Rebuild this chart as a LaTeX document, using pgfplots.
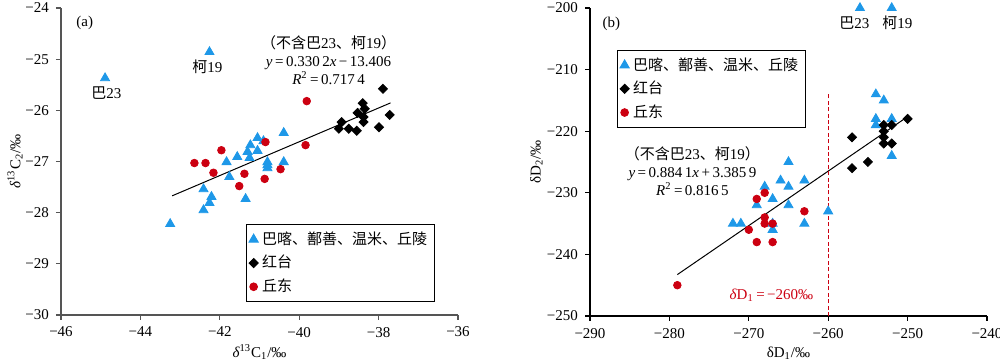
\documentclass[border=0pt]{standalone}
\usepackage{fontspec}
\setmainfont{Liberation Serif}
\newfontfamily\cjk{Noto Sans CJK SC}
\usepackage{pgfplots}
\pgfplotsset{compat=1.18}
\definecolor{myblue}{RGB}{30,152,232}
\definecolor{myred}{RGB}{204,0,17}
\definecolor{axgray}{RGB}{85,85,85}
\newcommand{\fs}{\fontsize{7.5}{9}\selectfont}
\pgfplotsset{
 myaxis/.style={
  scale only axis, width=198.5pt,
  axis lines=left, axis line style={-, axgray, line width=0.6pt},
  tick align=outside, major tick length=2.5pt, tick style={axgray, line width=0.6pt},
  every tick label/.append style={font=\fs, text=black},
  label style={font=\fs},
  xlabel style={at={(axis description cs:0.5,-0.12)}, anchor=center},
  legend style={font=\fs, draw=black, line width=0.5pt, inner sep=1.5pt, row sep=0pt},
  legend cell align=left,
  clip=false,
 },
 bl/.style={only marks, mark=triangle*, mark size=2.6pt, color=myblue},
 bk/.style={only marks, mark=square*, mark size=1.6pt, mark options={rotate=45}, color=black},
 rd/.style={only marks, mark=*, mark size=1.9pt, color=myred},
}
\begin{document}
\begin{tikzpicture}
% ---------------- (a) ----------------
\begin{axis}[myaxis, height=153.5pt, at={(30.5pt,24pt)}, anchor=south west,
  xmin=-46, xmax=-36, ymin=-30, ymax=-24,
  xtick={-46,-44,-42,-40,-38,-36}, xticklabels={−46,−44,−42,−40,−38,−36},
  ytick={-30,-29,-28,-27,-26,-25,-24}, yticklabels={−30,−29,−28,−27,−26,−25,−24},
  xlabel={{\itshape δ}\textsuperscript{13}C\textsubscript{1}/‰},
  ylabel={{\itshape δ}\textsuperscript{13}C\textsubscript{2}/‰},
  ylabel style={at={(axis description cs:-0.116,0.5)}, anchor=center},
  legend style={at={(0.465,0.296)}, anchor=north west}]
\addplot[bl] coordinates {
(-44.89,-25.37) (-42.26,-24.86)
(-43.25,-28.22) (-42.41,-27.95) (-42.26,-27.81) (-42.21,-27.69) (-42.41,-27.54)
(-41.83,-27.01) (-41.76,-27.30) (-41.56,-26.91) (-41.35,-27.73) (-41.23,-26.68)
(-41.30,-26.81) (-41.25,-26.93) (-41.05,-26.54) (-41.05,-26.79) (-40.90,-26.60)
(-40.80,-27.01) (-40.80,-27.07) (-40.80,-27.13) (-40.39,-26.44) (-40.39,-27.01)
};
\addlegendentry{\cjk 巴喀、鄯善、温米、丘陵}
\addplot[bk] coordinates {
(-37.89,-25.58) (-38.40,-25.86) (-38.53,-26.05) (-38.35,-25.97) (-38.38,-26.13)
(-38.38,-26.23) (-38.93,-26.23) (-39.00,-26.36) (-38.75,-26.36) (-38.55,-26.40)
(-37.99,-26.33) (-37.72,-26.09)
};
\addlegendentry{\cjk 红台}
\addplot[rd] coordinates {
(-42.64,-27.03) (-42.36,-27.03) (-42.16,-27.22) (-41.96,-26.78) (-41.51,-27.48)
(-41.38,-27.24) (-40.85,-26.62) (-40.87,-27.34) (-40.47,-27.15) (-39.81,-25.82)
(-39.84,-26.68)
};
\addlegendentry{\cjk 丘东}
\addplot[black, line width=0.5pt, forget plot] coordinates {(-43.2,-27.671) (-37.7,-25.855)};
\node[font=\fs] at (axis cs:-45.4,-24.3) {(a)};
\node[font=\fs] at (axis cs:-44.86,-25.66) {{\cjk 巴}23};
\node[font=\fs] at (axis cs:-42.31,-25.15) {{\cjk 柯}19};
\node[font=\fs, align=center] at (axis cs:-39.26,-25.02) {{\cjk （不含巴}23{\cjk 、柯}19{\cjk ）}\\ \textit{y}\,=\,0.330\,2\textit{x}\,−\,13.406\\ \textit{R}\textsuperscript{2}\,=\,0.717\,4};
\end{axis}
% ---------------- (b) ----------------
\begin{axis}[myaxis, height=154pt, at={(295pt,23.5pt)}, anchor=south west,
  axis line style={-, black, line width=0.6pt}, tick style={black, line width=0.6pt},
  xmin=-290, xmax=-240, ymin=-250, ymax=-200,
  xtick={-290,-280,-270,-260,-250,-240}, xticklabels={−290,−280,−270,−260,−250,−240},
  ytick={-250,-240,-230,-220,-210,-200}, yticklabels={−250,−240,−230,−220,−210,−200},
  xlabel={δD\textsubscript{1}/‰},
  ylabel={δD\textsubscript{2}/‰},
  ylabel style={at={(axis description cs:-0.135,0.5)}, anchor=center},
  legend style={at={(0.067,0.864)}, anchor=north west}]
\addplot[bl] coordinates {
(-256,-200) (-252,-200)
(-272,-235) (-271,-235) (-269,-232) (-268,-229) (-267,-231) (-267,-236) (-267,-235)
(-266,-228) (-265,-225) (-265,-229) (-265,-232) (-263,-228) (-263,-235) (-260,-233)
(-254,-214) (-253,-215) (-254,-218) (-254,-219) (-252,-218) (-252,-224)
};
\addlegendentry{\cjk 巴喀、鄯善、温米、丘陵}
\addplot[bk] coordinates {
(-257,-221) (-257,-226) (-255,-225) (-253,-219) (-253,-220) (-253,-221) (-253,-222)
(-252,-219) (-252,-222) (-250,-218)
};
\addlegendentry{\cjk 红台}
\addplot[rd] coordinates {
(-268,-230) (-269,-231) (-268,-234) (-268,-235) (-267,-235) (-270,-236) (-269,-238)
(-267,-238) (-263,-233) (-279,-245)
};
\addlegendentry{\cjk 丘东}
\addplot[black, line width=0.5pt, forget plot] coordinates {(-279,-243.28) (-250,-217.64)};
\addplot[myred, line width=0.6pt, dash pattern=on 2pt off 1.2pt, forget plot] coordinates {(-260,-250) (-260,-214)};
\node[font=\fs] at (axis cs:-287.3,-202.6) {(b)};
\node[font=\fs] at (axis cs:-256.7,-202.4) {{\cjk 巴}23};
\node[font=\fs] at (axis cs:-251.3,-202.4) {{\cjk 柯}19};
\node[font=\fs, align=center] at (axis cs:-277.1,-226.5) {{\cjk （不含巴}23{\cjk 、柯}19{\cjk ）}\\ \textit{y}\,=\,0.884\,1\textit{x}\,+\,3.385\,9\\ \textit{R}\textsuperscript{2}\,=\,0.816\,5};
\node[font=\fs, text=myred, anchor=east] at (axis cs:-261,-246.6) {{\itshape δ}D\textsubscript{1}\,=\,−260‰};
\end{axis}
\pgfresetboundingbox
\path (0,0) rectangle (500pt,181.5pt);
\end{tikzpicture}
\end{document}
